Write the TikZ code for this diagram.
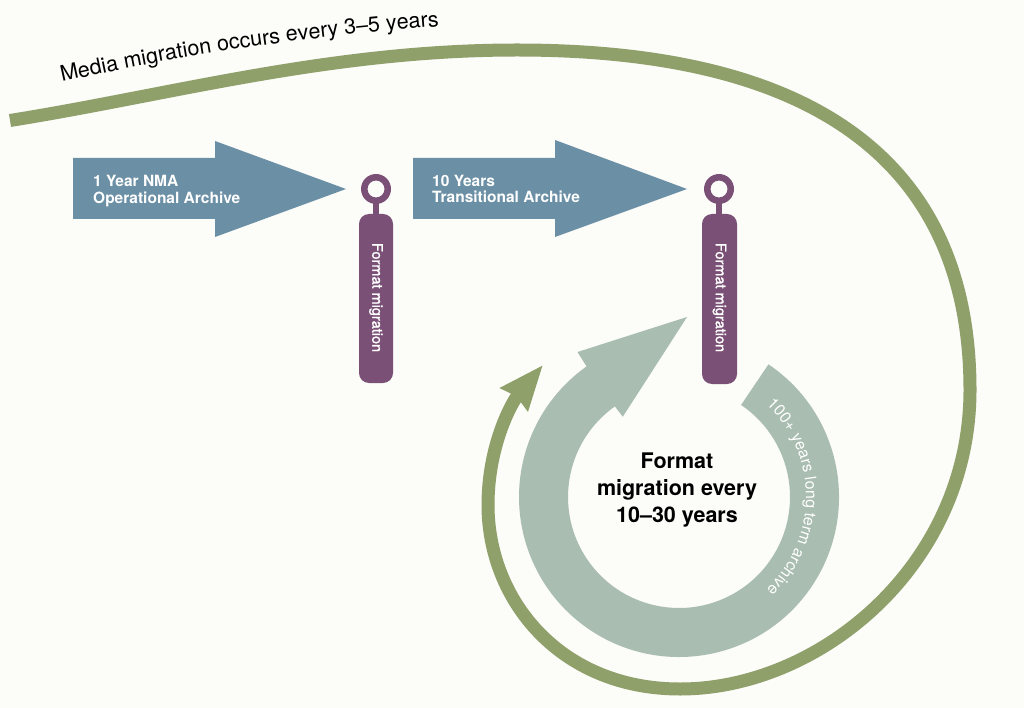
\documentclass[tikz,border=0pt]{standalone}
\usepackage{fontspec}
\setmainfont{TeX Gyre Heros}
\newfontfamily\medfont{TeX Gyre Heros}[FakeBold=1.2]
\usetikzlibrary{arrows.meta,decorations.text}
\definecolor{bg}{RGB}{252,252,249}
\definecolor{archblue}{RGB}{107,143,165}
\definecolor{pinpurple}{RGB}{123,80,118}
\definecolor{sage}{RGB}{169,189,177}
\definecolor{olive}{RGB}{143,160,106}
\begin{document}
\begin{tikzpicture}[x=1pt,y=-1pt,
  blockarrow/.style={fill=archblue},
  archtext/.style={anchor=base west, text=white, font=\bfseries\fontsize{15.5}{17}\selectfont, inner sep=0pt},
  pinshape/.style={fill=pinpurple},
  pintext/.style={rotate=-90, text=white, font=\medfont\fontsize{14.5}{14.5}\selectfont, inner sep=0pt},
  centertext/.style={anchor=base, font=\bfseries\fontsize{21.5}{27}\selectfont, inner sep=0pt},
  mediapath/.style={line width=13pt, draw=olive},
]
\fill[bg] (0,0) rectangle (1024,708);
\useasboundingbox (0,0) rectangle (1024,708);

% media migration curve
\draw[mediapath, -{Stealth[length=44pt,width=34pt,inset=3pt]}]
  (10,120.5) .. controls (170,95) and (330,50) .. (517,50)
  .. controls (850,50) and (970,190) .. (970,390)
  .. controls (970,565) and (820,689) .. (680,689)
  .. controls (560,689) and (488,600) .. (488,505)
  .. controls (488,445) and (512,402) .. (543,365);
\path[decorate, decoration={text along path, text align=left,
  text={|\fontsize{21.5}{21.5}\selectfont|Media migration occurs every 3–5 years}}]
  (62,82) .. controls (180,55) and (330,30) .. (540,20);

% archive arrows
\fill[blockarrow] (73,158) -- (215,158) -- (215,141) -- (346,189) -- (215,237) -- (215,219) -- (73,219) -- cycle;
\node[archtext] (a1l1) at (93,187) {1 Year NMA};
\node[archtext] (a1l2) at (93,203.5) {Operational Archive};
\fill[blockarrow] (413,158) -- (555,158) -- (555,140) -- (687,189) -- (555,237) -- (555,219) -- (413,219) -- cycle;
\node[archtext] (a2l1) at (432,186.5) {10 Years};
\node[archtext] (a2l2) at (432,203) {Transitional Archive};

% pins
\fill[pinshape, even odd rule] (376,189) circle (15) (376,189) circle (8.5);
\fill[pinshape] (373,200) rectangle (379,216);
\fill[pinshape, rounded corners=10pt] (359,214) rectangle (393,383);
\node[pintext] (p1) at (376,297.5) {Format migration};
\fill[pinshape, even odd rule] (719,189) circle (15) (719,189) circle (8.5);
\fill[pinshape] (716,200) rectangle (722,216);
\fill[pinshape, rounded corners=10pt] (702,214) rectangle (737,384);
\node[pintext] (p2) at (719.5,297.5) {Format migration};

% long term archive ring
\coordinate (C) at (679,497);
\fill[sage] ([shift={(-56:160)}]C) arc[start angle=-56, end angle=234.7, radius=160]
  -- ([shift={(235:177)}]C) -- (687,317) -- ([shift={(235:98)}]C)
  -- ([shift={(234.7:111)}]C) arc[start angle=234.7, end angle=-56, radius=111] -- cycle;
\path[decorate, decoration={text along path, text align=center, text color=white,
  text={|\fontsize{16}{16}\selectfont|100+ years long term archive}}]
  ([shift={(-60:127)}]C) arc[start angle=-60, end angle=60, radius=127];

\node[centertext] (c1) at (677,468) {Format};
\node[centertext] (c2) at (677,495) {migration every};
\node[centertext] (c3) at (677,522) {10–30 years};
\end{tikzpicture}
\end{document}
